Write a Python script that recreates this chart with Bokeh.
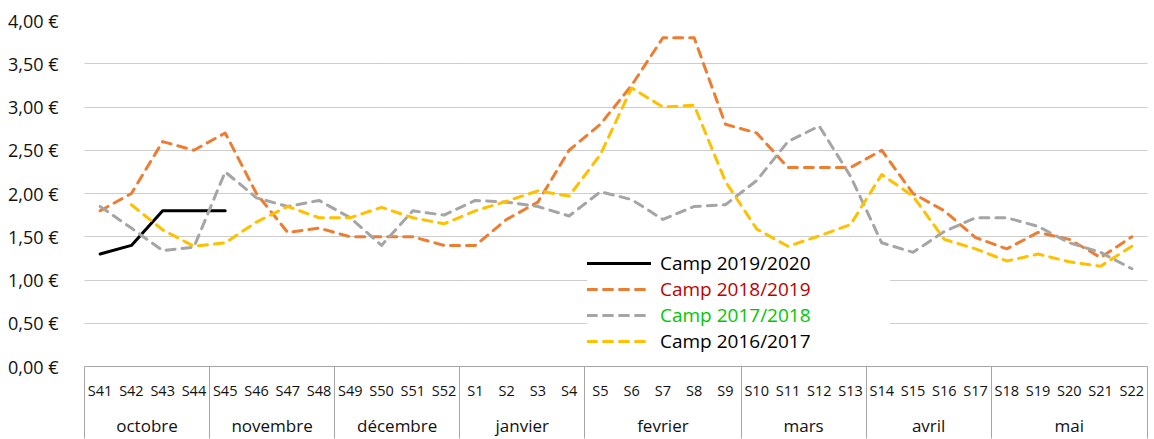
import numpy as np
from bokeh.plotting import figure
from bokeh.models import Range1d, LinearAxis, FixedTicker, ColumnDataSource, Legend, LegendItem
from bokeh.embed import file_html
from bokeh.resources import INLINE

# ---------------- data ----------------
weeks = ["S41", "S42", "S43", "S44", "S45", "S46", "S47", "S48", "S49", "S50", "S51", "S52",
         "S1", "S2", "S3", "S4", "S5", "S6", "S7", "S8", "S9", "S10", "S11", "S12", "S13",
         "S14", "S15", "S16", "S17", "S18", "S19", "S20", "S21", "S22"]
months = ["octobre", "novembre", "décembre", "janvier", "fevrier", "mars", "avril", "mai"]
weeks_per_month = [4, 4, 4, 4, 5, 4, 4, 5]

camp_2019_2020 = [1.30, 1.40, 1.80, 1.80, 1.80] + [None] * 29
camp_2018_2019 = [1.80, 2.00, 2.60, 2.50, 2.70, 2.00, 1.55, 1.60, 1.50, 1.50, 1.50, 1.40,
                  1.40, 1.70, 1.90, 2.50, 2.80, 3.25, 3.80, 3.80, 2.80, 2.70, 2.30, 2.30, 2.30,
                  2.50, 2.00, 1.80, 1.49, 1.36, 1.55, 1.47, 1.26, 1.50]
camp_2017_2018 = [1.85, 1.60, 1.34, 1.38, 2.25, 1.95, 1.85, 1.92, 1.72, 1.40, 1.80, 1.75,
                  1.92, 1.90, 1.85, 1.74, 2.02, 1.93, 1.70, 1.85, 1.87, 2.15, 2.60, 2.78, 2.20,
                  1.43, 1.32, 1.56, 1.72, 1.72, 1.62, 1.43, 1.32, 1.13]
camp_2016_2017 = [None, 1.87, 1.58, 1.39, 1.43, 1.67, 1.85, 1.72, 1.72, 1.84, 1.72, 1.65,
                  1.80, 1.91, 2.03, 1.97, 2.45, 3.22, 3.00, 3.02, 2.14, 1.59, 1.39, 1.51, 1.64,
                  2.22, 1.97, 1.47, 1.36, 1.22, 1.30, 1.21, 1.16, 1.39]

series_labels = ["Camp 2019/2020", "Camp 2018/2019", "Camp 2017/2018", "Camp 2016/2017"]
series_values = [camp_2019_2020, camp_2018_2019, camp_2017_2018, camp_2016_2017]

y_ticks = [0.0, 0.5, 1.0, 1.5, 2.0, 2.5, 3.0, 3.5, 4.0]
y_tick_labels = ["0,00 €", "0,50 €", "1,00 €", "1,50 €", "2,00 €", "2,50 €", "3,00 €", "3,50 €", "4,00 €"]

# ---------------- styles ----------------
FONT = "Open Sans"
line_colors = ["#000000", "#ED7D31", "#A5A5A5", "#FFC000"]
line_dashes = ["solid", "9 7", "9 7", "9 7"]
legend_text_colors = ["#000000", "#C00000", "#00C800", "#000000"]
AXIS_GREY = "#a6a6a6"

n = len(weeks)
week_x = [i + 0.5 for i in range(n)]
bounds = [0.0]
for c in weeks_per_month:
    bounds.append(bounds[-1] + c)
month_x = [(bounds[k] + bounds[k + 1]) / 2 for k in range(len(months))]

p = figure(width=1154, height=439, x_range=Range1d(0, n), y_range=Range1d(0, 4),
           output_backend="svg", toolbar_location=None, x_axis_location=None,
           min_border_left=84, min_border_top=20, min_border_right=7, min_border_bottom=71)
p.outline_line_color = None
p.background_fill_color = "white"

# y axis
yax = p.yaxis[0]
yax.ticker = FixedTicker(ticks=y_ticks)
yax.major_label_overrides = {t: l for t, l in zip(y_ticks, y_tick_labels)}
yax.axis_line_color = None
yax.major_tick_line_color = None
yax.minor_tick_line_color = None
yax.major_label_standoff = 20
yax.major_label_text_font = FONT
yax.major_label_text_font_size = "18px"
yax.major_label_text_color = "#111111"

for g in p.grid:
    if g.dimension == 0:
        g.visible = False
    else:
        g.ticker = FixedTicker(ticks=y_ticks[1:])
        g.grid_line_color = "#9a9a9a"
        g.grid_line_dash = "1 1"
        g.grid_line_width = 1

# x axes: weeks (with month boundary lines as long minor ticks), then months
SEP = 72
ax_w = LinearAxis(ticker=FixedTicker(ticks=week_x, minor_ticks=bounds),
                  major_label_overrides={x: w for x, w in zip(week_x, weeks)},
                  major_tick_in=0, major_tick_out=0, major_tick_line_color=None,
                  minor_tick_in=0, minor_tick_out=SEP, minor_tick_line_color=AXIS_GREY,
                  minor_tick_line_width=1,
                  axis_line_color=AXIS_GREY, axis_line_width=1,
                  major_label_standoff=14 - SEP, major_label_text_font=FONT,
                  major_label_text_font_size="14.5px", major_label_text_color="#111111")
p.add_layout(ax_w, "below")
ax_m = LinearAxis(ticker=FixedTicker(ticks=month_x),
                  major_label_overrides={x: m for x, m in zip(month_x, months)},
                  major_tick_in=0, major_tick_out=0, major_tick_line_color=None,
                  minor_tick_line_color=None, axis_line_color=None,
                  major_label_standoff=11, major_label_text_font=FONT,
                  major_label_text_font_size="17px", major_label_text_color="#111111")
p.add_layout(ax_m, "below")

renderers = []
for vals, col, dash in zip(series_values, line_colors, line_dashes):
    y = np.array([np.nan if v is None else v for v in vals], dtype=float)
    src = ColumnDataSource(dict(x=week_x, y=y))
    r = p.line("x", "y", source=src, line_color=col, line_width=3, line_dash=dash,
               line_cap="round", line_join="round")
    renderers.append(r)

# legends (one per item so that each label has its own colour)
legend_bottoms = [90, 64, 38, 12]
for r, lab, tc, yb in zip(renderers, series_labels, legend_text_colors, legend_bottoms):
    leg = Legend(items=[LegendItem(label=lab, renderers=[r])], location=(503, yb),
                 padding=0, spacing=0, margin=0, glyph_width=64, glyph_height=26,
                 label_height=26, label_width=230, label_standoff=9,
                 label_text_font=FONT, label_text_font_size="19px", label_text_color=tc,
                 background_fill_color="white", background_fill_alpha=1.0,
                 border_line_color=None)
    p.add_layout(leg)

open("out.html", "w").write(file_html(p, INLINE))
